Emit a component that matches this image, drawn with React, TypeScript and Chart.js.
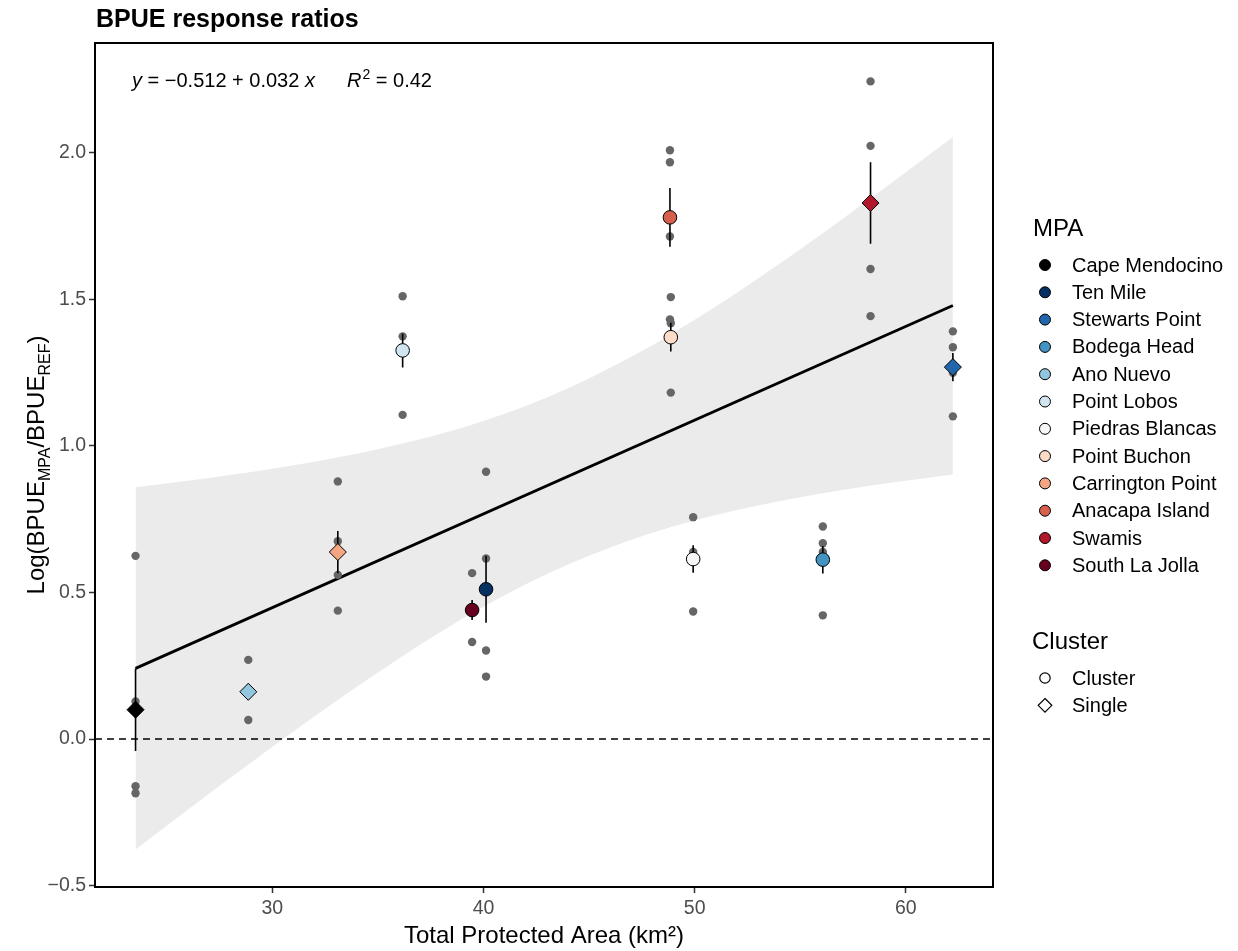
import React, { useEffect, useRef } from 'react';
import { Chart, registerables } from 'chart.js';

Chart.register(...registerables);

const FONT = '"Liberation Sans", Arial, Helvetica, sans-serif';

// ---- Data ----
const mpaNames = ['Cape Mendocino', 'Ten Mile', 'Stewarts Point', 'Bodega Head', 'Ano Nuevo', 'Point Lobos', 'Piedras Blancas', 'Point Buchon', 'Carrington Point', 'Anacapa Island', 'Swamis', 'South La Jolla'];
const mpaColors = ['#000000', '#053061', '#2166AC', '#4393C3', '#92C5DE', '#D1E5F0', '#F7F7F7', '#FDDBC7', '#F4A582', '#D6604D', '#B2182B', '#67001F'];
const mpaArea = [23.52, 40.12, 62.23, 56.07, 28.86, 36.17, 49.93, 48.87, 33.1, 48.83, 58.33, 39.46];
const mpaMean = [0.100, 0.511, 1.269, 0.612, 0.161, 1.326, 0.614, 1.371, 0.638, 1.780, 1.829, 0.440];
const mpaSE = [0.141, 0.114, 0.048, 0.047, 0.028, 0.058, 0.047, 0.049, 0.072, 0.100, 0.139, 0.034];
const mpaType = ['Single', 'Cluster', 'Single', 'Cluster', 'Single', 'Cluster', 'Cluster', 'Cluster', 'Single', 'Cluster', 'Single', 'Cluster'];

const rawArea = [
  23.52, 23.52, 23.52, 23.52,
  28.86, 28.86,
  33.1, 33.1, 33.1, 33.1,
  36.17, 36.17, 36.17,
  39.46, 39.46,
  40.12, 40.12, 40.12, 40.12,
  48.83, 48.83, 48.83, 48.83,
  48.87, 48.87, 48.87,
  49.93, 49.93, 49.93,
  56.07, 56.07, 56.07, 56.07,
  58.33, 58.33, 58.33, 58.33,
  62.23, 62.23, 62.23, 62.23,
];
const rawValue = [
  0.625, 0.128, -0.161, -0.185,
  0.270, 0.065,
  0.879, 0.675, 0.560, 0.438,
  1.511, 1.374, 1.106,
  0.566, 0.331,
  0.912, 0.616, 0.302, 0.213,
  2.009, 1.968, 1.715, 1.432,
  1.508, 1.419, 1.182,
  0.757, 0.638, 0.435,
  0.725, 0.668, 0.638, 0.422,
  2.244, 2.024, 1.604, 1.443,
  1.391, 1.337, 1.250, 1.101,
];

const fitX = [23.52, 62.23];
const fitY = [0.241, 1.479];

const bandX = [23.52, 27, 31, 35, 39, 43, 47, 51, 55, 59, 62.23];
const bandUpper = [0.859, 0.891, 0.934, 0.989, 1.062, 1.165, 1.304, 1.476, 1.671, 1.880, 2.054];
const bandLower = [-0.377, -0.187, 0.026, 0.227, 0.410, 0.563, 0.680, 0.764, 0.825, 0.872, 0.903];

const xTicks = [30, 40, 50, 60];
const yTicks = [-0.5, 0, 0.5, 1.0, 1.5, 2.0];
const X_MIN = 21.6;
const X_MAX = 64.13;
const Y_MIN = -0.505;
const Y_MAX = 2.375;

const titleText = 'BPUE response ratios';
const xTitle = 'Total Protected Area (km\u00B2)';
const clusterLabels = ['Cluster', 'Single'];

function fmtY(v: number) {
  return v < 0 ? '\u2212' + Math.abs(v).toFixed(1) : v.toFixed(1);
}

function drawDiamond(ctx: CanvasRenderingContext2D, x: number, y: number, r: number) {
  ctx.beginPath();
  ctx.moveTo(x, y - r);
  ctx.lineTo(x + r, y);
  ctx.lineTo(x, y + r);
  ctx.lineTo(x - r, y);
  ctx.closePath();
}

const decorPlugin = {
  id: 'decor',
  beforeDraw(chart: any) {
    const { ctx, width, height } = chart;
    ctx.save();
    ctx.fillStyle = '#ffffff';
    ctx.fillRect(0, 0, width, height);
    ctx.restore();
  },
  afterDraw(chart: any) {
    const { ctx, chartArea: a } = chart;
    ctx.save();
    // panel border
    ctx.strokeStyle = '#000';
    ctx.lineWidth = 2;
    ctx.strokeRect(a.left, a.top, a.right - a.left, a.bottom - a.top);

    // title
    ctx.fillStyle = '#000';
    ctx.textBaseline = 'alphabetic';
    ctx.textAlign = 'left';
    ctx.font = `bold 25px ${FONT}`;
    ctx.fillText(titleText, 96, 27);

    // equation
    let x = 132;
    const by = 87;
    ctx.font = `italic 20px ${FONT}`;
    ctx.fillText('y', x, by);
    x += ctx.measureText('y').width;
    ctx.font = `20px ${FONT}`;
    const mid = ' = \u22120.512 + 0.032 ';
    ctx.fillText(mid, x, by);
    x += ctx.measureText(mid).width;
    ctx.font = `italic 20px ${FONT}`;
    ctx.fillText('x', x, by);
    x = 347;
    ctx.fillText('R', x, by);
    x += ctx.measureText('R').width + 1;
    ctx.font = `14px ${FONT}`;
    ctx.fillText('2', x, by - 8);
    x += ctx.measureText('2').width;
    ctx.font = `20px ${FONT}`;
    ctx.fillText(' = 0.42', x, by);

    // x axis title
    ctx.font = `24px ${FONT}`;
    ctx.textAlign = 'center';
    ctx.fillText(xTitle, (a.left + a.right) / 2, 943);

    // y axis title (rotated)
    ctx.save();
    ctx.translate(44, (a.top + a.bottom) / 2);
    ctx.rotate(-Math.PI / 2);
    const parts: [string, boolean][] = [['Log(BPUE', false], ['MPA', true], ['/BPUE', false], ['REF', true], [')', false]];
    const big = `24px ${FONT}`;
    const small = `16px ${FONT}`;
    let total = 0;
    for (const [t, sub] of parts) {
      ctx.font = sub ? small : big;
      total += ctx.measureText(t).width;
    }
    let px = -total / 2;
    ctx.textAlign = 'left';
    for (const [t, sub] of parts) {
      ctx.font = sub ? small : big;
      ctx.fillText(t, px, sub ? 6 : 0);
      px += ctx.measureText(t).width;
    }
    ctx.restore();

    // legend MPA
    ctx.textAlign = 'left';
    ctx.font = `24px ${FONT}`;
    ctx.fillStyle = '#000';
    ctx.fillText('MPA', 1033, 236);
    ctx.font = `20px ${FONT}`;
    ctx.textBaseline = 'middle';
    mpaNames.forEach((name, i) => {
      const yy = 265 + i * 27.3;
      ctx.beginPath();
      ctx.arc(1045, yy, 5.5, 0, Math.PI * 2);
      ctx.fillStyle = mpaColors[i];
      ctx.fill();
      ctx.lineWidth = 1;
      ctx.strokeStyle = '#000';
      ctx.stroke();
      ctx.fillStyle = '#000';
      ctx.fillText(name, 1072, yy + 1);
    });

    // legend Cluster
    ctx.textBaseline = 'alphabetic';
    ctx.font = `24px ${FONT}`;
    ctx.fillText('Cluster', 1032, 649);
    ctx.font = `20px ${FONT}`;
    ctx.textBaseline = 'middle';
    clusterLabels.forEach((lab, i) => {
      const yy = 678 + i * 27.3;
      ctx.lineWidth = 1.2;
      ctx.strokeStyle = '#000';
      if (lab === 'Cluster') {
        ctx.beginPath();
        ctx.arc(1045, yy, 5.2, 0, Math.PI * 2);
        ctx.stroke();
      } else {
        drawDiamond(ctx, 1045, yy, 6.8);
        ctx.stroke();
      }
      ctx.fillStyle = '#000';
      ctx.fillText(lab, 1072, yy + 1);
    });
    ctx.restore();
  },
};

export default function App() {
  const ref = useRef<HTMLCanvasElement>(null);
  useEffect(() => {
    document.body.style.margin = '0';
    const errData: any[] = [];
    mpaArea.forEach((x, i) => {
      errData.push({ x, y: mpaMean[i] - mpaSE[i] });
      errData.push({ x, y: mpaMean[i] + mpaSE[i] });
      errData.push({ x, y: null });
    });
    const chart = new Chart(ref.current as HTMLCanvasElement, {
      type: 'scatter',
      data: {
        datasets: [
          {
            type: 'line',
            label: 'upper',
            data: bandX.map((x, i) => ({ x, y: bandUpper[i] })),
            borderColor: 'rgba(0,0,0,0)',
            borderWidth: 0,
            pointRadius: 0,
            backgroundColor: '#EBEBEB',
            fill: '+1',
            cubicInterpolationMode: 'monotone',
            order: 10,
          } as any,
          {
            type: 'line',
            label: 'lower',
            data: bandX.map((x, i) => ({ x, y: bandLower[i] })),
            borderColor: 'rgba(0,0,0,0)',
            borderWidth: 0,
            pointRadius: 0,
            fill: false,
            cubicInterpolationMode: 'monotone',
            order: 11,
          } as any,
          {
            type: 'line',
            label: 'zero',
            data: [{ x: X_MIN, y: 0 }, { x: X_MAX, y: 0 }],
            borderColor: '#000000',
            borderWidth: 1.5,
            borderDash: [7, 5],
            pointRadius: 0,
            fill: false,
            clip: false,
            order: 9,
          } as any,
          {
            type: 'line',
            label: 'fit',
            data: fitX.map((x, i) => ({ x, y: fitY[i] })),
            borderColor: '#000',
            borderWidth: 2.8,
            pointRadius: 0,
            fill: false,
            order: 8,
          } as any,
          {
            type: 'scatter',
            label: 'raw',
            data: rawArea.map((x, i) => ({ x, y: rawValue[i] })),
            backgroundColor: '#666666',
            borderWidth: 0,
            pointRadius: 4.2,
            order: 7,
          } as any,
          {
            type: 'line',
            label: 'se',
            data: errData,
            borderColor: '#000',
            borderWidth: 1.6,
            pointRadius: 0,
            spanGaps: false,
            fill: false,
            order: 6,
          } as any,
          {
            type: 'scatter',
            label: 'means',
            data: mpaArea.map((x, i) => ({ x, y: mpaMean[i] })),
            backgroundColor: mpaColors,
            borderColor: '#000',
            borderWidth: 1,
            pointStyle: mpaType.map((t) => (t === 'Single' ? 'rectRot' : 'circle')),
            pointRadius: mpaType.map((t) => (t === 'Single' ? 8.5 : 6.8)),
            order: 1,
          } as any,
        ],
      },
      options: {
        animation: false,
        responsive: true,
        maintainAspectRatio: false,
        events: [],
        layout: { padding: { top: 43, right: 245, bottom: 0, left: 0 } },
        plugins: {
          legend: { display: false },
          title: { display: false },
          tooltip: { enabled: false },
        },
        scales: {
          x: {
            type: 'linear',
            min: X_MIN,
            max: X_MAX,
            afterBuildTicks: (s: any) => {
              s.ticks = xTicks.map((v) => ({ value: v }));
            },
            afterFit: (s: any) => {
              s.height = 64;
            },
            ticks: {
              color: '#4D4D4D',
              font: { family: FONT, size: 19.5 },
              padding: 4,
              maxRotation: 0,
              autoSkip: false,
              callback: (v: any) => String(v),
            },
            grid: {
              display: true,
              drawOnChartArea: false,
              drawTicks: true,
              tickLength: 6,
              tickColor: '#333333',
              tickWidth: 1.5,
            },
            border: { display: false },
          },
          y: {
            type: 'linear',
            min: Y_MIN,
            max: Y_MAX,
            afterBuildTicks: (s: any) => {
              s.ticks = yTicks.map((v) => ({ value: v }));
            },
            afterFit: (s: any) => {
              s.width = 95;
            },
            ticks: {
              color: '#4D4D4D',
              font: { family: FONT, size: 19.5 },
              padding: 3,
              autoSkip: false,
              callback: (v: any) => fmtY(Number(v)),
            },
            grid: {
              display: true,
              drawOnChartArea: false,
              drawTicks: true,
              tickLength: 6,
              tickColor: '#333333',
              tickWidth: 1.5,
            },
            border: { display: false },
          },
        },
      } as any,
      plugins: [decorPlugin],
    });
    return () => chart.destroy();
  }, []);
  return (
    <div style={{ width: 1238, height: 951, position: 'relative' }}>
      <canvas ref={ref} />
    </div>
  );
}
